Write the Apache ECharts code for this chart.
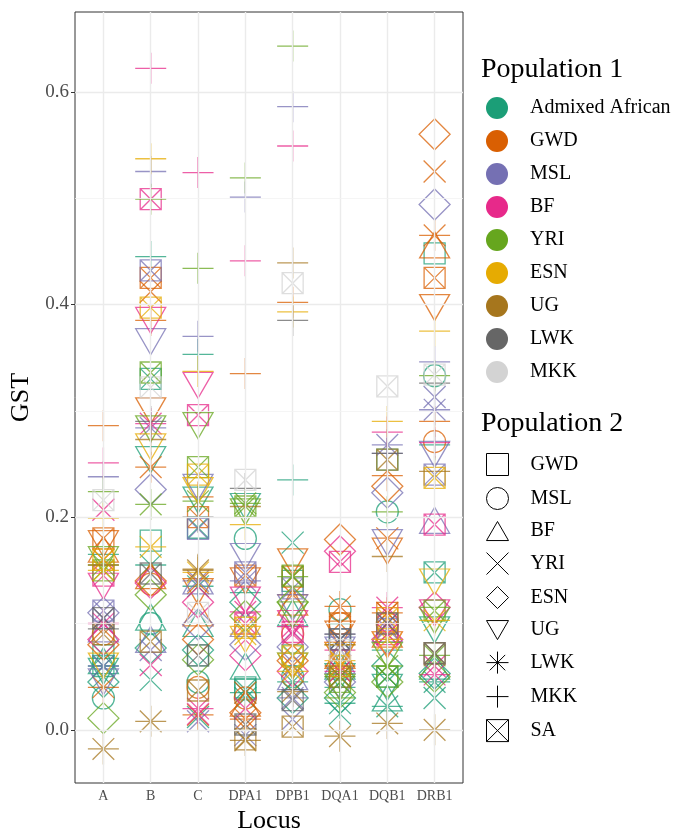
<!DOCTYPE html>
<html>
<head>
<meta charset="utf-8">
<script src="https://cdn.jsdelivr.net/npm/echarts@6/dist/echarts.min.js"></script>
<style>
html,body{margin:0;padding:0;background:#fff;}
#chart{width:694px;height:828px;}
</style>
</head>
<body>
<div id="chart"></div>
<script>
// ---- data ----
const loci = ['A', 'B', 'C', 'DPA1', 'DPB1', 'DQA1', 'DQB1', 'DRB1'];
const populations = ['Admixed African', 'GWD', 'MSL', 'BF', 'YRI', 'ESN', 'UG', 'LWK', 'MKK', 'SA'];
const pop1Names = ['Admixed African', 'GWD', 'MSL', 'BF', 'YRI', 'ESN', 'UG', 'LWK', 'MKK'];
const pop2Names = ['GWD', 'MSL', 'BF', 'YRI', 'ESN', 'UG', 'LWK', 'MKK', 'SA'];
const pop1Colors = ['#1B9E77', '#D95F02', '#7570B3', '#E7298A', '#66A61E', '#E6AB02', '#A6761D', '#666666', '#D3D3D3'];
const yTicks = [0, 0.2, 0.4, 0.6];

// GST per population pair (pairs in order: AA-GWD, AA-MSL, ..., AA-SA, GWD-MSL, ..., MKK-SA)
const gstA    = [0.060,0.030,0.065,0.050,0.045,0.055,0.060,0.165,0.070, 0.090,0.170,0.160,0.080,0.175,0.040,0.286,0.180, 0.095,0.105,0.110,0.045,0.060,0.238,0.112, 0.207,0.085,0.135,0.100,0.251,0.145, 0.011,0.160,0.155,0.224,0.150, 0.060,0.150,0.199,0.160, -0.018,0.155,0.090, 0.095,0.105, 0.216];
const gstB    = [0.178,0.100,0.106,0.047,0.077,0.254,0.155,0.445,0.330, 0.137,0.145,0.412,0.140,0.300,0.247,0.385,0.425, 0.085,0.075,0.226,0.365,0.284,0.525,0.432, 0.061,0.138,0.385,0.288,0.622,0.499, 0.127,0.283,0.212,0.499,0.336, 0.266,0.172,0.537,0.397, 0.008,0.273,0.083, 0.290,0.147, 0.322];
const gstC    = [0.070,0.045,0.100,0.012,0.075,0.216,0.135,0.353,0.190, 0.040,0.110,0.138,0.085,0.130,0.014,0.219,0.200, 0.140,0.008,0.099,0.228,0.140,0.370,0.189, 0.015,0.120,0.324,0.020,0.524,0.296, 0.066,0.286,0.215,0.434,0.247, 0.225,0.148,0.337,0.240, 0.150,0.151,0.037, 0.200,0.070, 0.110];
const gstDPA1 = [0.040,0.180,0.060,0.030,0.120,0.210,0.035,0.129,0.038, 0.030,0.025,0.035,0.016,0.140,0.010,0.335,0.145, 0.100,-0.005,0.080,0.163,0.140,0.501,0.148, 0.020,0.070,0.122,0.111,0.441,0.100, 0.107,0.205,0.213,0.519,0.210, 0.085,0.090,0.193,0.096, -0.010,0.210,-0.009, 0.227,0.005, 0.235];
const gstDPB1 = [0.140,0.050,0.110,0.176,0.030,0.060,0.045,0.235,0.070, 0.090,0.120,0.060,0.065,0.158,0.127,0.402,0.144, 0.050,0.010,0.078,0.115,0.030,0.586,0.133, 0.090,0.055,0.100,0.097,0.549,0.092, 0.120,0.108,0.144,0.643,0.145, 0.060,0.055,0.393,0.069, 0.036,0.439,0.003, 0.385,0.028, 0.420];
const gstDQA1 = [0.090,0.113,0.060,0.015,0.030,0.050,0.025,0.040,0.085, 0.100,0.070,0.055,0.179,0.090,0.116,0.060,0.100, 0.065,0.080,0.045,0.075,0.050,0.090,0.085, 0.060,0.168,0.070,0.055,0.075,0.158, 0.035,0.040,0.050,0.030,0.045, 0.070,0.065,0.080,0.060, -0.006,0.080,0.050, 0.090,0.085, 0.075];
const gstDQB1 = [0.254,0.205,0.030,0.050,0.060,0.040,0.022,0.075,0.050, 0.100,0.090,0.180,0.229,0.168,0.110,0.239,0.110, 0.095,0.100,0.223,0.176,0.268,0.260,0.095, 0.090,0.085,0.080,0.115,0.280,0.090, 0.045,0.070,0.060,0.205,0.050, 0.080,0.085,0.290,0.105, 0.006,0.163,0.254, 0.260,0.100, 0.323];
const gstDRB1 = [0.448,0.333,0.060,0.030,0.053,0.094,0.045,0.268,0.148, 0.271,0.456,0.525,0.560,0.397,0.465,0.290,0.425, 0.197,0.313,0.494,0.259,0.301,0.346,0.240, 0.060,0.115,0.110,0.052,0.270,0.193, 0.050,0.103,0.070,0.333,0.112, 0.139,0.103,0.375,0.237, 0.000,0.243,0.072, 0.326,0.072, 0.334];
const gstByLocus = [gstA, gstB, gstC, gstDPA1, gstDPB1, gstDQA1, gstDQB1, gstDRB1];

// ---- shapes (ggplot open shapes) ----
const shapePaths = [
  'path://M0,0L100,0L100,100L0,100Z',                                   // square
  'circle',                                                              // circle
  'path://M50,0L100,86.6L0,86.6Z',                                      // triangle up
  'path://M0,0L100,100M100,0L0,100',                                    // x
  'path://M50,0L100,50L50,100L0,50Z',                                   // diamond
  'path://M0,0L100,0L50,86.6Z',                                         // triangle down
  'path://M50,0L50,100M0,50L100,50M15,15L85,85M85,15L15,85',            // asterisk
  'path://M50,0L50,100M0,50L100,50',                                    // plus
  'path://M0,0L100,0L100,100L0,100ZM0,0L100,100M100,0L0,100'            // square cross
];
const shapeSizes = [[21,21],[22,22],[30,26],[22,22],[31,31],[30,26],[31,31],[31,31],[21,21]];

// pairs (pop1 index, pop2 index) from population order
const pairs = [];
for (let i = 0; i < populations.length; i++) {
  for (let j = i + 1; j < populations.length; j++) {
    pairs.push([i, j - 1]);
  }
}

const series = [];
// grid lines as markLines
const majorLines = [];
for (let k = 1; k <= loci.length; k++) majorLines.push({xAxis: k});
yTicks.forEach(v => majorLines.push({yAxis: v}));
const minorLines = [0.1, 0.3, 0.5].map(v => ({yAxis: v}));
series.push({
  type: 'scatter', name: '__grid', data: [], z: 1, silent: true,
  markLine: {
    silent: true, symbol: ['none', 'none'], label: {show: false}, animation: false,
    data: majorLines.map(d => Object.assign({lineStyle: {color: '#EBEBEB', width: 1.4, type: 'solid'}}, d))
      .concat(minorLines.map(d => Object.assign({lineStyle: {color: '#F2F2F2', width: 0.8, type: 'solid'}}, d)))
  }
});

pop1Names.forEach((name, p) => {
  const data = [];
  gstByLocus.forEach((vals, l) => {
    pairs.forEach((pr, k) => {
      if (pr[0] !== p) return;
      data.push({
        value: [l + 1, vals[k]],
        symbol: shapePaths[pr[1]],
        symbolSize: shapeSizes[pr[1]]
      });
    });
  });
  series.push({
    type: 'scatter', name: name, data: data, z: 3,
    itemStyle: {color: 'rgba(0,0,0,0)', borderColor: pop1Colors[p], borderWidth: 1.3, opacity: 0.75}
  });
});
pop2Names.forEach((name) => {
  series.push({type: 'scatter', name: 'p2_' + name, data: []});
});

const serif = 'Liberation Serif';
const chart = echarts.init(document.getElementById('chart'), null, {renderer: 'canvas'});
chart.setOption({
  animation: false,
  backgroundColor: '#ffffff',
  grid: {left: 75, right: 231, top: 12, bottom: 45, outerBoundsMode: 'none', containLabel: false, show: true, borderColor: '#333333', borderWidth: 1, backgroundColor: 'rgba(0,0,0,0)'},
  xAxis: {
    type: 'value', min: 0.4, max: 8.6,
    axisLine: {show: false},
    axisTick: {show: true, customValues: [1,2,3,4,5,6,7,8], length: 4, lineStyle: {color: '#333333'}},
    axisLabel: {customValues: [1,2,3,4,5,6,7,8], formatter: v => loci[Math.round(v) - 1], fontSize: 14, color: '#4D4D4D', fontFamily: serif, margin: 6},
    splitLine: {show: false},
    name: 'Locus', nameLocation: 'middle', nameGap: 15,
    nameTextStyle: {fontSize: 26, color: '#000', fontFamily: serif, verticalAlign: 'top'}
  },
  yAxis: {
    type: 'value', min: -0.05, max: 0.675,
    axisLine: {show: false},
    axisTick: {show: true, customValues: yTicks, length: 4, lineStyle: {color: '#333333'}},
    axisLabel: {customValues: yTicks, formatter: v => v.toFixed(1), fontSize: 19, color: '#4D4D4D', fontFamily: serif, margin: 6},
    splitLine: {show: false},
    name: 'GST', nameLocation: 'middle', nameGap: 40,
    nameTextStyle: {fontSize: 26, color: '#000', fontFamily: serif}
  },
  title: [
    {text: 'Population 1', left: 481, top: 56, padding: 0, textStyle: {fontSize: 28, fontWeight: 'normal', color: '#000', fontFamily: serif}},
    {text: 'Population 2', left: 481, top: 410, padding: 0, textStyle: {fontSize: 28, fontWeight: 'normal', color: '#000', fontFamily: serif}}
  ],
  legend: [
    {
      orient: 'vertical', left: 486, top: 97, padding: 0,
      itemWidth: 22, itemHeight: 22, itemGap: 11,
      selectedMode: false,
      textStyle: {fontSize: 20, color: '#000', fontFamily: serif, padding: [0, 0, 0, 17]},
      data: pop1Names.map((n, i) => ({name: n, icon: 'circle', itemStyle: {color: pop1Colors[i], borderWidth: 0, opacity: 1}}))
    },
    {
      orient: 'vertical', left: 486, top: 453, padding: 0,
      itemWidth: 22, itemHeight: 22, itemGap: 11,
      selectedMode: false,
      textStyle: {fontSize: 20, color: '#000', fontFamily: serif, padding: [0, 0, 0, 17]},
      formatter: n => n.replace('p2_', ''),
      data: pop2Names.map((n, i) => ({name: 'p2_' + n, icon: shapePaths[i], itemStyle: {color: 'rgba(0,0,0,0)', borderColor: '#000', borderWidth: 1, opacity: 1}}))
    }
  ],
  series: series
});
</script>
</body>
</html>
